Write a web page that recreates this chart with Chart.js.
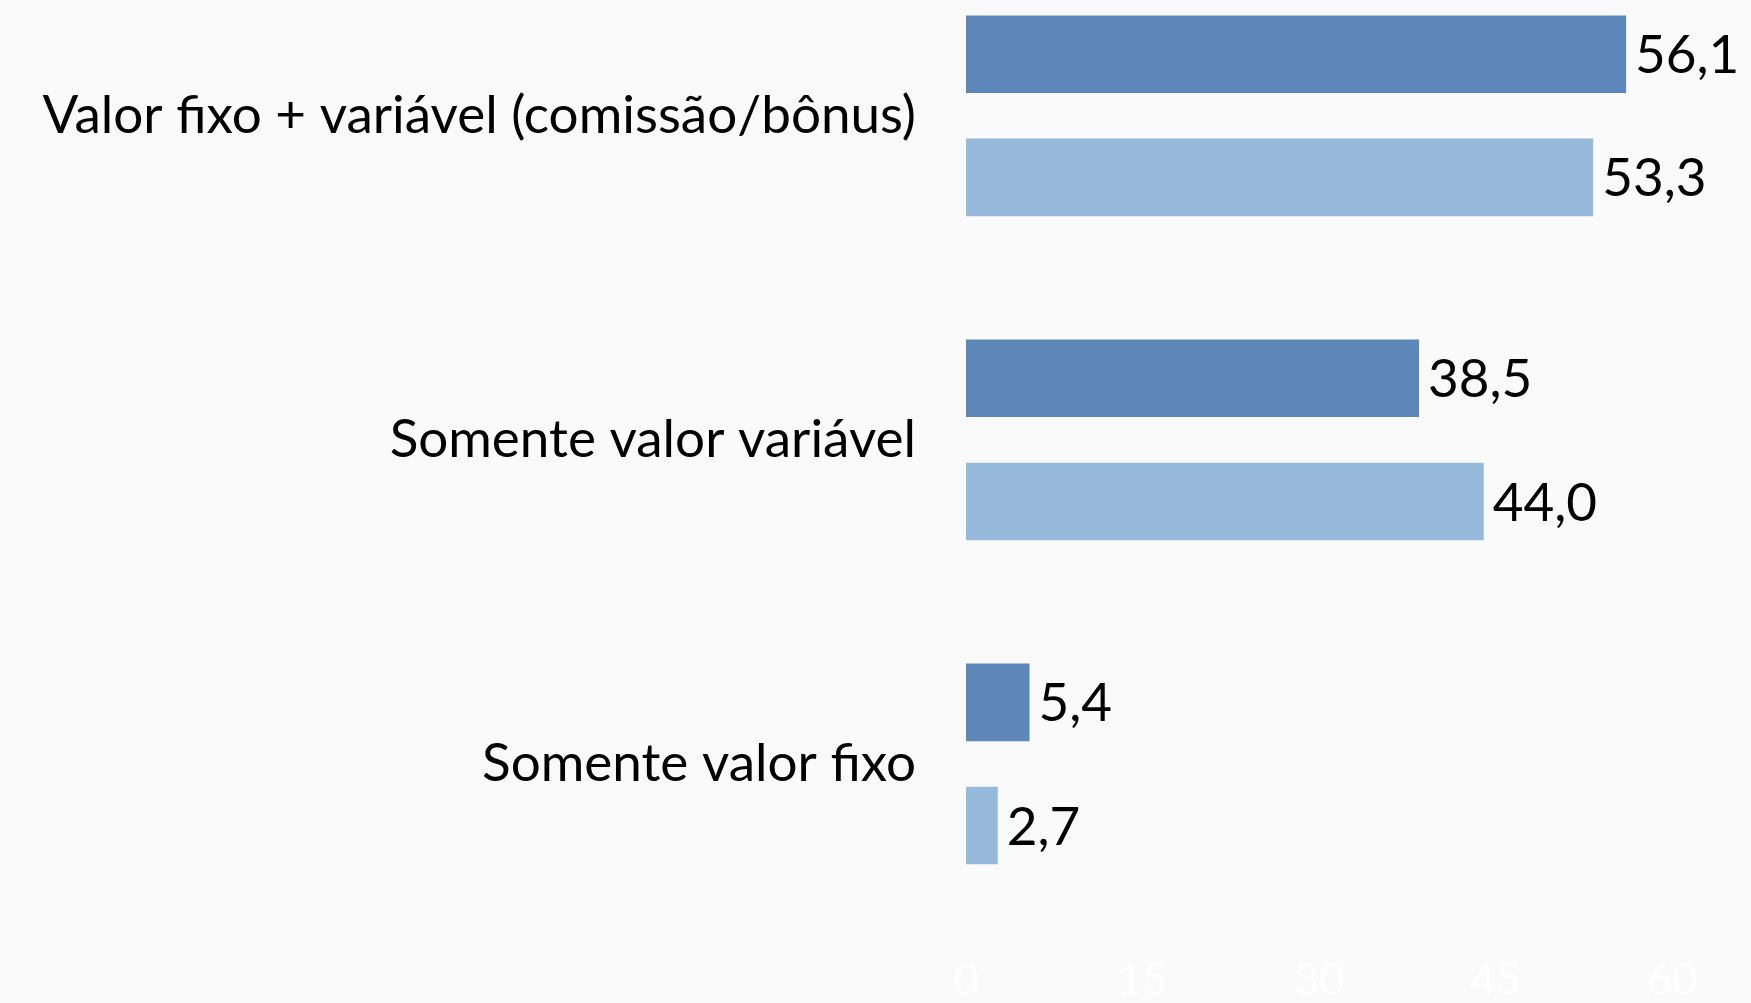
<!DOCTYPE html>
<html>
<head>
<meta charset="utf-8">
<script src="https://cdn.jsdelivr.net/npm/chart.js@4/dist/chart.umd.min.js"></script>
<style>
  html, body { margin: 0; padding: 0; background: #fafafa; }
  #wrap { position: relative; width: 1751px; height: 1003px; overflow: hidden; }
  /* the plot area starts above the visible page, as in the original */
  #inner { position: absolute; left: 0; top: -78px; width: 1751px; height: 1081px; }
</style>
</head>
<body>
<div id="wrap"><div id="inner"><canvas id="payChart"></canvas></div></div>
<script>
const categories = ['Valor fixo + variável (comissão/bônus)', 'Somente valor variável', 'Somente valor fixo']
const seriesA = [56.1, 38.5, 5.4]
const seriesB = [53.3, 44.0, 2.7]
const xTicks = [0, 15, 30, 45, 60]

const fmt = (v) => v.toFixed(1).replace('.', ',')

// value labels to the right of each bar
const barLabels = {
  id: 'barLabels',
  afterDatasetsDraw (chart) {
    const ctx = chart.ctx
    ctx.save()
    ctx.font = '53px Lato'
    ctx.fillStyle = '#000'
    ctx.textAlign = 'left'
    ctx.textBaseline = 'middle'
    chart.data.datasets.forEach((ds, i) => {
      chart.getDatasetMeta(i).data.forEach((bar, j) => {
        ctx.fillText(fmt(ds.data[j]), bar.x + 9, bar.y + 2)
      })
    })
    ctx.restore()
  }
}

new Chart(document.getElementById('payChart'), {
  type: 'bar',
  data: {
    labels: categories,
    datasets: [
      { label: 'A', data: seriesA, backgroundColor: '#5e87b9' },
      { label: 'B', data: seriesB, backgroundColor: '#97b9dc' }
    ]
  },
  options: {
    indexAxis: 'y',
    responsive: true,
    maintainAspectRatio: false,
    animation: false,
    layout: { padding: { top: 0, right: 79, bottom: 0, left: 0 } },
    barPercentage: 0.63,
    categoryPercentage: 0.76,
    plugins: { legend: { display: false }, tooltip: { enabled: false } },
    scales: {
      x: {
        min: 0,
        max: 60,
        afterBuildTicks: (scale) => { scale.ticks = xTicks.map(v => ({ value: v })) },
        afterFit: (scale) => { scale.height = 77 },
        grid: { display: false, drawTicks: false },
        border: { display: false },
        ticks: { color: '#ffffff', font: { family: 'Lato', size: 44 }, padding: 28 }
      },
      y: {
        afterFit: (scale) => { scale.width = 966 },
        grid: { display: false, drawTicks: true, tickLength: 50 },
        border: { display: false },
        ticks: { color: '#000', font: { family: 'Lato', size: 53 }, padding: 0 }
      }
    }
  },
  plugins: [barLabels]
})
</script>
</body>
</html>
